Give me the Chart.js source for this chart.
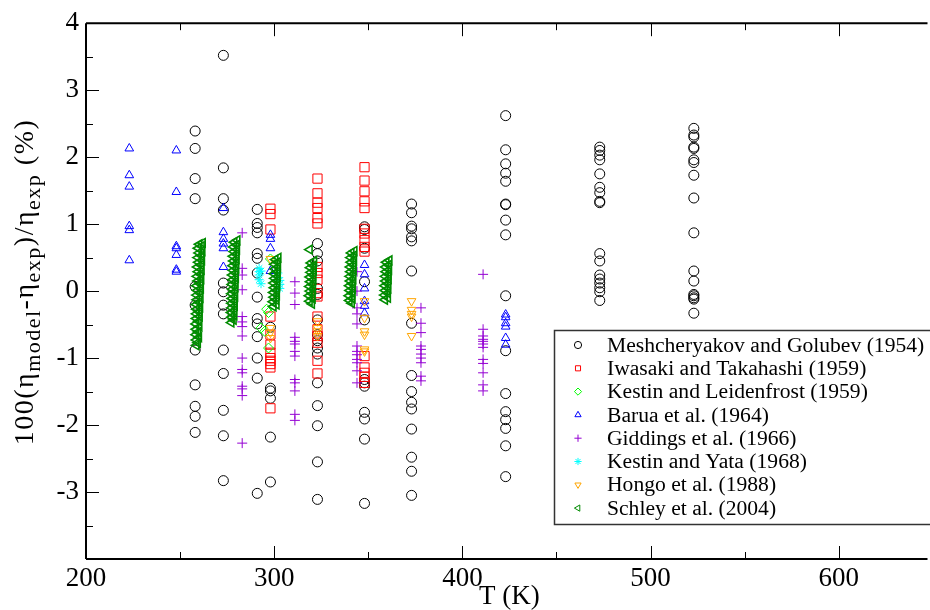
<!DOCTYPE html>
<html>
<head>
<meta charset="utf-8">
<script src="https://cdn.jsdelivr.net/npm/chart.js@4.4.0/dist/chart.umd.min.js"></script>
<style>
  html, body { margin: 0; padding: 0; background: #fff; overflow: hidden; }
  canvas { display: block; }
</style>
</head>
<body>
<canvas id="devChart" width="930" height="610"></canvas>
<script>
// Deviation of model viscosity from measurements, per data source.
// Column data: one temperature, many deviations.
const meshT = [258, 273, 291, 298, 323, 348, 373, 423, 473, 523];
const meshDev = [
  [2.39, 2.13, 1.68, 1.38, 0.07, -0.21, -0.88, -1.40, -1.72, -1.87, -2.11],
  [3.52, 1.84, 1.38, 1.21, 0.12, -0.01, -0.21, -0.34, -0.88, -1.23, -1.78, -2.16, -2.83],
  [1.22, 1.01, 0.95, 0.87, 0.56, 0.49, 0.27, -0.09, -0.41, -0.49, -0.68, -1.00, -1.30, -3.02],
  [-0.54, -1.45, -1.49, -1.60, -2.18, -2.85],
  [0.71, 0.56, 0.45, 0.04, -0.05, -0.43, -0.65, -0.74, -0.85, -0.94, -1.37, -1.71, -2.01, -2.55, -3.11],
  [0.96, 0.92, 0.64, 0.14, -0.43, -1.32, -1.37, -1.42, -1.81, -1.91, -2.21, -3.17],
  [1.30, 1.17, 0.97, 0.93, 0.81, 0.75, 0.30, -0.48, -1.26, -1.50, -1.66, -1.76, -2.06, -2.48, -2.69, -3.05],
  [2.62, 2.11, 1.90, 1.76, 1.64, 1.30, 1.29, 1.06, 0.84, -0.07, -0.89, -1.53, -1.80, -1.92, -2.05, -2.31, -2.77],
  [2.15, 2.10, 2.03, 1.96, 1.75, 1.55, 1.47, 1.34, 1.32, 0.56, 0.45, 0.24, 0.18, 0.12, 0.05, -0.01, -0.14],
  [2.43, 2.33, 2.30, 2.15, 2.13, 1.96, 1.92, 1.73, 1.39, 0.87, 0.30, 0.15, -0.05, -0.07, -0.10, -0.12, -0.33]
];

const iwasakiT = [298, 323, 348];
const iwasakiDev = [
  [1.23, 1.15, 0.92, -0.38, -0.65, -0.80, -0.92, -1.00, -1.04, -1.09, -1.14, -1.75],
  [1.68, 1.46, 1.32, 1.24, 1.09, 1.01, 0.36, 0.27, 0.17, -0.03, -0.08, -0.38, -0.57, -0.67, -0.77, -1.04, -1.23],
  [1.85, 1.65, 1.49, 1.34, 1.24, 0.93, 0.86, 0.76, 0.66, 0.59, -0.97, -1.14, -1.22, -1.28, -1.37]
];

const baruaT = [223, 248, 273, 298, 348, 423];
const baruaDev = [
  [2.13, 1.73, 1.56, 0.97, 0.91, 0.46],
  [2.10, 1.48, 0.67, 0.64, 0.54, 0.32, 0.29],
  [1.24, 0.88, 0.78, 0.71, 0.64, 0.36],
  [0.84, 0.78, 0.64, 0.30],
  [0.39, 0.25, 0.04, -0.15, -0.22, -0.33],
  [-0.35, -0.39, -0.48, -0.53, -0.70, -0.80]
];

const giddingsT = [283, 311, 344, 378, 411];
const giddingsDev = [
  [0.87, 0.34, 0.24, 0.02, -0.38, -0.46, -0.53, -0.67, -1.00, -1.17, -1.22, -1.42, -1.46, -1.56, -2.27],
  [0.14, -0.03, -0.20, -0.69, -0.75, -0.79, -0.90, -0.97, -1.32, -1.37, -1.49, -1.84, -1.93],
  [0.29, 0.00, -0.25, -0.34, -0.49, -0.82, -0.90, -0.95, -1.02, -1.07, -1.19, -1.37],
  [-0.25, -0.48, -0.62, -0.82, -0.87, -0.94, -1.00, -1.07, -1.27, -1.34],
  [0.25, -0.57, -0.67, -0.72, -0.75, -0.79, -0.84, -1.02, -1.08, -1.22, -1.40, -1.49]
];

const hongoT = [298, 323, 348, 373];
const hongoDev = [
  [0.48, -0.55, -0.62, -0.70],
  [-0.45, -0.55, -0.60, -0.67],
  [-0.15, -0.40, -0.60, -0.65, -0.87, -0.90],
  [-0.15, -0.28, -0.34, -0.38, -0.67]
];

// Point-by-point data
const leidenfrostT = [296, 297, 293, 295, 297, 298];
const leidenfrostDev = [-0.27, -0.32, -0.55, -0.60, -0.85, 0.48];

const yataT = [292, 292, 292, 292, 293, 293, 302, 302, 303, 303, 303];
const yataDev = [0.34, 0.29, 0.24, 0.17, 0.11, 0.30, 0.27, 0.20, 0.16, 0.10, 0.04];

// Schley et al.: six dense isotherm bands
const schleyT = [
  [262.0, 260.2, 261.4, 259.6, 261.8, 260.0, 261.2, 259.4, 261.6, 259.8, 261.0, 259.2, 261.4, 259.6, 260.8,
   259.0, 261.2, 259.4, 260.6, 258.8, 261.0, 259.2, 260.4, 258.8, 260.8, 259.0, 260.2, 258.6, 260.6, 258.8,
   260.0, 258.6, 260.4, 258.6, 259.8, 258.4, 260.2, 258.5, 259.6, 258.4, 260.0, 258.6, 259.4, 258.6],
  [280.4, 278.8, 280.0, 278.4, 280.2, 278.6, 279.8, 278.2, 280.0, 278.4, 279.6, 278.0, 279.8, 278.2, 279.4,
   277.8, 279.6, 278.0, 279.2, 277.6, 279.4, 277.8, 279.0, 277.4, 279.2, 277.6, 278.8, 277.4, 279.0, 277.4,
   278.6, 277.2, 278.8, 277.4, 278.4, 277.2],
  [302.2, 300.6, 301.8, 300.2, 302.0, 300.4, 301.6, 300.0, 301.8, 300.2, 301.4, 299.8, 301.6, 300.0, 301.2,
   299.6, 301.4, 299.8, 301.0, 299.4, 301.2, 299.6],
  [318.8, 321.2, 319.6, 320.8, 319.2, 321.0, 319.4, 320.6, 319.0, 320.8, 319.2, 320.4, 318.8, 320.6, 319.0,
   320.2, 318.6, 320.4, 318.8, 320.0],
  [342.6, 341.0, 342.2, 340.6, 342.4, 340.8, 342.0, 340.4, 342.2, 340.6, 341.8, 340.2, 342.0, 340.4, 341.6,
   340.0, 341.8, 340.2, 341.4, 339.8, 341.6, 340.0, 341.2],
  [361.2, 359.6, 360.8, 359.2, 361.0, 359.4, 360.6, 359.0, 360.8, 359.2, 360.4, 358.8, 360.6, 359.0, 360.2,
   358.6, 360.4, 358.8]
];
const schleyDev = [
  [0.72, 0.70, 0.67, 0.64, 0.60, 0.57, 0.53, 0.50, 0.46, 0.43, 0.39, 0.36, 0.32, 0.29, 0.25,
   0.22, 0.18, 0.15, 0.11, 0.08, 0.04, 0.01, -0.03, -0.06, -0.10, -0.13, -0.17, -0.20, -0.24, -0.27,
   -0.31, -0.34, -0.38, -0.41, -0.45, -0.49, -0.53, -0.57, -0.61, -0.65, -0.69, -0.73, -0.77, -0.81],
  [0.76, 0.73, 0.69, 0.66, 0.62, 0.59, 0.55, 0.52, 0.48, 0.45, 0.41, 0.38, 0.34, 0.31, 0.27,
   0.24, 0.20, 0.17, 0.13, 0.10, 0.06, 0.03, -0.01, -0.04, -0.08, -0.11, -0.15, -0.18, -0.22, -0.25,
   -0.29, -0.32, -0.36, -0.39, -0.43, -0.47],
  [0.50, 0.47, 0.43, 0.40, 0.36, 0.33, 0.29, 0.26, 0.22, 0.19, 0.15, 0.12, 0.08, 0.05, 0.01,
   -0.02, -0.06, -0.09, -0.13, -0.16, -0.20, -0.23],
  [0.62, 0.45, 0.42, 0.38, 0.35, 0.31, 0.28, 0.24, 0.21, 0.17, 0.14, 0.10, 0.07, 0.03, 0.00,
   -0.04, -0.07, -0.11, -0.15, -0.19],
  [0.60, 0.57, 0.53, 0.50, 0.46, 0.43, 0.39, 0.36, 0.32, 0.29, 0.25, 0.22, 0.18, 0.15, 0.11,
   0.08, 0.04, 0.01, -0.03, -0.07, -0.11, -0.14, -0.18],
  [0.46, 0.43, 0.39, 0.36, 0.32, 0.29, 0.25, 0.22, 0.18, 0.15, 0.11, 0.08, 0.04, 0.01, -0.03,
   -0.06, -0.10, -0.13]
];

const xTickLabels = [200, 300, 400, 500, 600];
const xMinorTicks = [250, 350, 450, 550, 650];
const yTickLabels = [-3, -2, -1, 0, 1, 2, 3, 4];
const yMinorTicks = [-3.5, -2.5, -1.5, -0.5, 0.5, 1.5, 2.5, 3.5];

const SERIF = '"Liberation Serif", "Times New Roman", serif';

function columns(temps, devs) {
  const pts = [];
  temps.forEach((t, i) => devs[i].forEach(d => pts.push({ x: t, y: d })));
  return pts;
}
function pairs(temps, devs) {
  return temps.map((t, i) => ({ x: t, y: devs[i] }));
}
function bands(temps, devs) {
  return temps.flatMap((row, i) => pairs(row, devs[i]));
}

function series(label, data, color, style, radius, rotation, lineW) {
  return {
    label: label,
    data: data,
    borderColor: color,
    backgroundColor: 'rgba(0,0,0,0)',
    borderWidth: lineW || 1,
    pointStyle: style,
    pointRadius: radius,
    pointHoverRadius: radius,
    rotation: rotation || 0
  };
}

const datasets = [
  series('Meshcheryakov and Golubev (1954)', columns(meshT, meshDev), '#000000', 'circle', 5),
  series('Iwasaki and Takahashi (1959)', columns(iwasakiT, iwasakiDev), '#ff0000', 'rect', 6.5),
  series('Kestin and Leidenfrost (1959)', pairs(leidenfrostT, leidenfrostDev), '#00ff00', 'rectRot', 5),
  series('Barua et al. (1964)', columns(baruaT, baruaDev), '#0000ff', 'triangle', 5),
  series('Giddings et al. (1966)', columns(giddingsT, giddingsDev), '#9400d3', 'cross', 5),
  series('Kestin and Yata (1968)', pairs(yataT, yataDev), '#00ffff', 'star', 4.5),
  series('Hongo et al. (1988)', columns(hongoT, hongoDev), '#ffa500', 'triangle', 5, 180),
  series('Schley et al. (2004)', bands(schleyT, schleyDev), '#008b00', 'triangle', 5, -90, 1.6)
];
// later sources are painted on top
datasets.forEach((ds, i) => { ds.order = datasets.length - i; });

// Frame with inward ticks on left, bottom and top
const framePlugin = {
  id: 'frame',
  beforeDatasetsDraw(chart) {
    const { ctx, chartArea: a } = chart;
    const x = chart.scales.x, y = chart.scales.y;
    const seg = (x1, y1, x2, y2) => { ctx.moveTo(x1, y1); ctx.lineTo(x2, y2); };
    ctx.save();
    ctx.strokeStyle = '#000';
    ctx.lineWidth = 2;
    ctx.beginPath();
    seg(a.right + 5, a.top, a.left, a.top);
    seg(a.left, a.top, a.left, a.bottom);
    seg(a.left, a.bottom, a.right + 5, a.bottom);
    ctx.stroke();

    ctx.lineWidth = 1;
    ctx.beginPath();
    xTickLabels.forEach(v => {
      const px = Math.round(x.getPixelForValue(v)) + 0.5;
      seg(px, a.bottom, px, a.bottom - 13);
      seg(px, a.top, px, a.top + 13);
    });
    xMinorTicks.forEach(v => {
      const px = Math.round(x.getPixelForValue(v)) + 0.5;
      seg(px, a.bottom, px, a.bottom - 7);
      seg(px, a.top, px, a.top + 7);
    });
    yTickLabels.forEach(v => {
      const py = Math.round(y.getPixelForValue(v)) + 0.5;
      seg(a.left, py, a.left + 13, py);
    });
    yMinorTicks.forEach(v => {
      const py = Math.round(y.getPixelForValue(v)) + 0.5;
      seg(a.left, py, a.left + 7, py);
    });
    ctx.stroke();
    ctx.restore();
  }
};

// Axis titles, the y one with subscripts
const titlePlugin = {
  id: 'axisTitles',
  afterDraw(chart) {
    const ctx = chart.ctx;
    const x = chart.scales.x;
    ctx.save();
    ctx.fillStyle = '#000';
    ctx.font = '27px ' + SERIF;
    ctx.textAlign = 'center';
    ctx.textBaseline = 'alphabetic';
    const mid = (x.getPixelForValue(200) + x.getPixelForValue(650)) / 2;
    ctx.fillText('T (K)', mid, 604);

    const parts = [
      ['100(\u03b7', false], ['model', true], ['-\u03b7', false], ['exp', true],
      [')/\u03b7', false], ['exp', true], [' (%)', false]
    ];
    const mainFont = '28px ' + SERIF;
    const subFont = '22px ' + SERIF;
    if ('letterSpacing' in ctx) ctx.letterSpacing = '1.5px';
    let total = 0;
    parts.forEach(p => { ctx.font = p[1] ? subFont : mainFont; total += ctx.measureText(p[0]).width; });
    ctx.translate(33, 282);
    ctx.rotate(-Math.PI / 2);
    ctx.textAlign = 'left';
    let cx = -total / 2;
    parts.forEach(p => {
      ctx.font = p[1] ? subFont : mainFont;
      ctx.fillText(p[0], cx, p[1] ? 7 : 0);
      cx += ctx.measureText(p[0]).width;
    });
    ctx.restore();
  }
};

// Boxed legend in the lower right of the plot
const legendPlugin = {
  id: 'boxLegend',
  afterDatasetsDraw(chart) {
    const ctx = chart.ctx;
    const left = 554, top = 330, rowH = 23.3;
    ctx.save();
    ctx.fillStyle = '#fff';
    ctx.fillRect(left, top, 400, 194);
    ctx.strokeStyle = '#333';
    ctx.lineWidth = 1.5;
    ctx.strokeRect(left + 0.5, top + 0.5, 400, 194);
    chart.data.datasets.forEach((ds, i) => {
      const yy = top + 15 + i * rowH;
      ctx.strokeStyle = ds.borderColor;
      ctx.fillStyle = 'rgba(0,0,0,0)';
      ctx.lineWidth = 1;
      Chart.helpers.drawPoint(ctx, {
        pointStyle: ds.pointStyle, rotation: ds.rotation, radius: 3.6, borderWidth: 1
      }, left + 24, yy);
      ctx.fillStyle = '#000';
      ctx.font = '21.6px ' + SERIF;
      ctx.textAlign = 'left';
      ctx.textBaseline = 'middle';
      ctx.fillText(ds.label, left + 53, yy + 1);
    });
    ctx.restore();
  }
};

new Chart(document.getElementById('devChart').getContext('2d'), {
  type: 'scatter',
  data: { datasets: datasets },
  options: {
    responsive: false,
    animation: false,
    events: [],
    layout: { padding: { top: 20, right: 0, left: 0, bottom: 0 } },
    plugins: { legend: { display: false }, tooltip: { enabled: false } },
    scales: {
      x: {
        type: 'linear',
        min: 200,
        max: 644.5,
        grid: { display: false, drawTicks: false },
        border: { display: false },
        afterBuildTicks: s => { s.ticks = xTickLabels.map(v => ({ value: v })); },
        afterFit: s => { s.height = 51; },
        ticks: {
          autoSkip: false, maxRotation: 0, padding: 4, color: '#000',
          font: { family: SERIF, size: 27 }
        }
      },
      y: {
        type: 'linear',
        min: -4,
        max: 4,
        grid: { display: false, drawTicks: false },
        border: { display: false },
        afterBuildTicks: s => { s.ticks = yTickLabels.map(v => ({ value: v })); },
        afterFit: s => { s.width = 86; },
        ticks: {
          autoSkip: false, padding: 7, color: '#000',
          font: { family: SERIF, size: 27 }
        }
      }
    }
  },
  plugins: [framePlugin, legendPlugin, titlePlugin]
});
</script>
</body>
</html>
